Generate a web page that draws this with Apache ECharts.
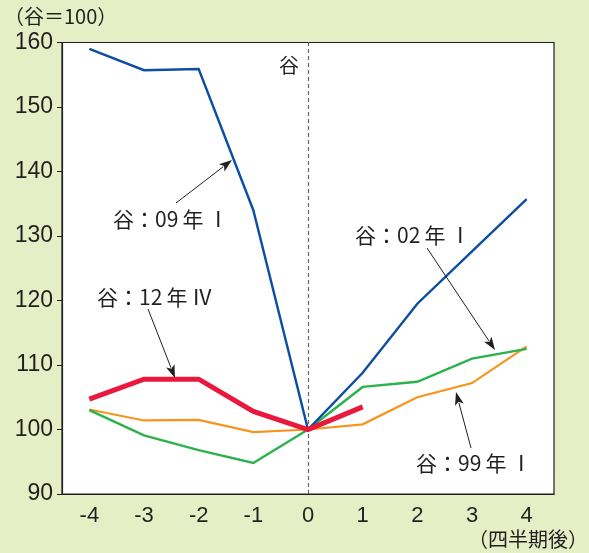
<!DOCTYPE html>
<html>
<head>
<meta charset="utf-8">
<script src="https://cdn.jsdelivr.net/npm/echarts@6/dist/echarts.min.js"></script>
<style>
html,body{margin:0;padding:0;background:#e5eec5;}
#c{width:589px;height:553px;}
</style>
</head>
<body>
<div id="c"></div>
<script>
// Data
var categories = ['-4','-3','-2','-1','0','1','2','3','4'];
var yTicks = [90, 100, 110, 120, 130, 140, 150, 160];
var s09 = [159.0, 155.7, 155.9, 134.0, 100, 108.8, 119.5, 127.6, 135.7];
var s02 = [103.0, 99.1, 96.8, 94.8, 100, 106.6, 107.4, 111.0, 112.5];
var s99 = [103.1, 101.4, 101.5, 99.6, 100, 100.8, 105.0, 107.2, 112.9];
var s12 = [104.7, 107.8, 107.8, 102.8, 100, 103.5, null, null, null];

var FONT = '"Liberation Sans", "Noto Sans CJK JP", sans-serif';
var CJK = '"Noto Sans CJK JP", "Liberation Sans", sans-serif';
var TXT = '#231f20';
var T = '\u2009';

function arrow(x1, y1, x2, y2, head) {
  var dx = x2 - x1, dy = y2 - y1, L = Math.sqrt(dx*dx + dy*dy);
  var ux = dx / L, uy = dy / L;
  var h = head || 11, w = 4.5;
  var bx = x2 - ux*h, by = y2 - uy*h;
  return [
    {type:'line', shape:{x1:x1, y1:y1, x2:bx + ux*2, y2:by + uy*2}, style:{stroke:'#231f20', lineWidth:1}, z:100},
    {type:'polygon', shape:{points:[[x2,y2],[bx - uy*w, by + ux*w],[bx + ux*3, by + uy*3],[bx + uy*w, by - ux*w]]}, style:{fill:'#231f20'}, z:100}
  ];
}
function label(text, x, y, align, size) {
  return {type:'text', x:x, y:y, z:100, style:{text:text, font:(size || 20) + 'px ' + CJK, fill:TXT, textAlign:align || 'left', textVerticalAlign:'middle'}};
}

var graphics = [
  label('（谷＝100）', 4, 16),
  label('（四半期後）', 588, 539, 'right'),
  label('谷', 289, 65, 'center'),
  label('谷：09' + T + '年' + T + 'Ⅰ', 113, 219, 'left', 21),
  label('谷：12' + T + '年' + T + 'Ⅳ', 97, 297, 'left', 21),
  label('谷：02' + T + '年' + T + 'Ⅰ', 355, 235, 'left', 21),
  label('谷：99' + T + '年' + T + 'Ⅰ', 416, 463, 'left', 21)
];
graphics = graphics.concat(arrow(176, 203, 232, 160, 13));
graphics = graphics.concat(arrow(148, 309, 175, 378, 13));
graphics = graphics.concat(arrow(427, 248, 495, 350, 13));
graphics = graphics.concat(arrow(471, 448, 456, 392, 13));

var chart = echarts.init(document.getElementById('c'), null, {renderer:'canvas'});
function mk(name, data, color, width, extra) {
  var s = {name:name, type:'line', data:data, symbol:'none', connectNulls:false,
    lineStyle:{color:color, width:width, cap:'butt', join:'miter'}, itemStyle:{color:color}, animation:false};
  if (extra) for (var k in extra) s[k] = extra[k];
  return s;
}
chart.setOption({
  backgroundColor:'#e5eec5',
  animation:false,
  grid:{left:62, right:35, top:42.5, bottom:59, show:true, backgroundColor:'#ffffff', borderColor:'#231f20', borderWidth:1.2},
  xAxis:{type:'category', data:categories, boundaryGap:true,
    axisLine:{lineStyle:{color:'#231f20', width:1.2}},
    axisTick:{inside:true, length:7, interval:0, lineStyle:{color:'#231f20'}},
    axisLabel:{fontSize:22, color:TXT, fontFamily:FONT, margin:11}},
  yAxis:{type:'value', min:90, max:160, interval:10,
    axisLine:{show:true, lineStyle:{color:'#231f20', width:1.2}},
    axisTick:{show:true, inside:false, length:5, lineStyle:{color:'#231f20'}},
    splitLine:{show:false},
    axisLabel:{fontSize:23, color:TXT, fontFamily:FONT, margin:9,
      formatter:function(v){ return yTicks.indexOf(v) >= 0 ? String(v) : ''; }}},
  series:[
    mk('谷：99年Ⅰ', s99, '#f7941d', 2.2, {z:2}),
    mk('谷：02年Ⅰ', s02, '#2bb24c', 2.4, {z:3}),
    mk('谷：09年Ⅰ', s09, '#0b4ea2', 2.4, {z:4,
      markLine:{silent:true, symbol:['none','none'], label:{show:false},
        lineStyle:{color:'#666666', type:[4,3], width:1.2},
        data:[{xAxis:'0'}]}}),
    mk('谷：12年Ⅳ', s12, '#e8193c', 5, {z:5})
  ],
  graphic:graphics
});
</script>
</body>
</html>
